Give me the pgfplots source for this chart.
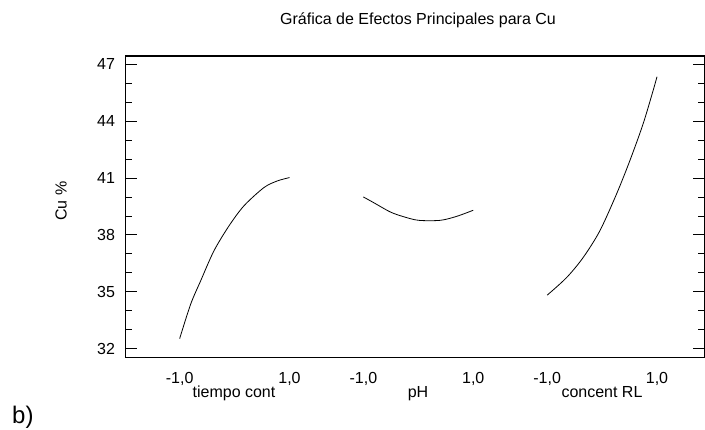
\documentclass[border=0pt]{standalone}
\usepackage{fontspec}
\setmainfont{Liberation Sans}
\usepackage{pgfplots}
\usepackage{pgfplotstable}
\pgfplotsset{compat=1.18}

% main effects for Cu (coded levels -1..1)
\pgfplotstableread{
x y
-1.000 32.54
-0.800 34.35
-0.618 35.58
-0.376 37.16
-0.103 38.47
0.170 39.53
0.533 40.49
0.776 40.84
1.000 41.02
}\tiempo

\pgfplotstableread{
x y
-1.000 40.00
-0.812 39.70
-0.510 39.21
-0.267 38.96
0.006 38.77
0.400 38.77
0.700 38.98
1.000 39.30
}\ph

\pgfplotstableread{
x y
-1.000 34.83
-0.648 35.75
-0.345 36.81
-0.042 38.21
0.261 40.14
0.503 41.89
0.745 43.83
0.927 45.58
1.000 46.33
}\concent

\begin{document}
\fontsize{16}{19}\selectfont
\begin{tikzpicture}
\path[use as bounding box] (0pt,0pt) rectangle (705pt,430pt);
\begin{axis}[
  at={(125.7pt,72.7pt)}, anchor=south west,
  scale only axis, width=578.5pt, height=301.3pt,
  xmin=-1.982, xmax=8.55,
  ymin=31.56, ymax=47.42,
  axis line style={line width=1.1pt},
  tick align=inside,
  xtick={-1,1,2.345,4.345,5.691,7.691},
  xticklabels={{-1,0},{1,0},{-1,0},{1,0},{-1,0},{1,0}},
  xtick style={draw=none},
  xticklabel style={anchor=base, yshift=-26.7pt},
  ytick={32,35,38,41,44,47},
  minor y tick num=2,
  ytick pos=both,
  yticklabel pos=left,
  ytick style={line width=0.9pt, black},
  major tick length=11pt,
  minor tick length=6.5pt,
  yticklabel style={anchor=east, inner sep=0pt, xshift=-10.5pt},
  /pgf/number format/assume math mode=true,
]
\addplot[black, line width=0.8pt, smooth] table[x=x, y=y] {\tiempo};
\addplot[black, line width=0.8pt, smooth] table[x expr=\thisrow{x}+3.345, y=y] {\ph};
\addplot[black, line width=0.8pt, smooth] table[x expr=\thisrow{x}+6.691, y=y] {\concent};
\end{axis}
\node[anchor=base] at (418pt,405pt) {Gráfica de Efectos Principales para Cu};
\node[rotate=90] at (61pt,229pt) {Cu \%};
\node[anchor=base] at (234pt,32.7pt) {tiempo cont};
\node[anchor=base] at (418pt,32.7pt) {pH};
\node[anchor=base] at (602pt,32.7pt) {concent RL};
\node[anchor=base west, inner sep=0pt, font=\fontsize{24}{28}\selectfont] at (12pt,6.7pt) {b)};
\end{tikzpicture}
\end{document}
